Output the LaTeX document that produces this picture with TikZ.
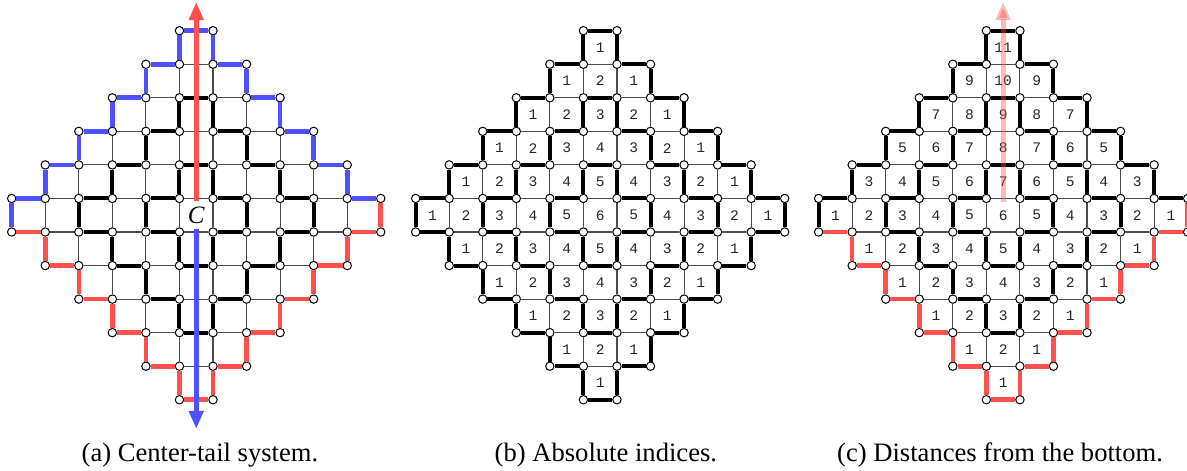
\documentclass[tikz,border=0pt]{standalone}
\usepackage{fontspec}
\setmainfont{Liberation Serif}
\setmonofont{Liberation Mono}
\definecolor{tailred}{RGB}{255,80,80}
\definecolor{tailblue}{RGB}{80,80,255}
\usetikzlibrary{arrows.meta}

% #1 panel (1,2,3), #2 on the rim, #3 upper half, #4 thick
\newcommand\pickedge[4]{%
  \ifnum#2=1
    \ifnum#3=1
      \ifnum#1=1 \def\es{upedge}\else\def\es{thickedge}\fi
    \else
      \ifnum#1=2 \def\es{thickedge}\else\def\es{downedge}\fi
    \fi
  \else
    \ifnum#4=1 \def\es{thickedge}\else\def\es{thinedge}\fi
  \fi}

\begin{document}
\begin{tikzpicture}[
  x=16.775pt, y=16.775pt,
  vtx/.style={circle,draw,fill=white,line width=0.5pt,inner sep=0pt,minimum size=4.2pt},
  thinedge/.style={line width=0.55pt,black!70},
  thickedge/.style={line width=2pt,black},
  upedge/.style={line width=2.3pt,tailblue},
  downedge/.style={line width=2.3pt,tailred},
  num/.style={font=\ttfamily\fontsize{7.3}{8}\selectfont,text=black!85},
  subcap/.style={font=\fontsize{13.3}{16}\selectfont,anchor=base},
  arr/.style={-{Triangle[length=9pt,width=7pt]},line width=2.4pt},
]
  \useasboundingbox (-0.349,0.915) rectangle (35.03,-13.094);

  \foreach \p/\ox/\k in {a/0/1,b/12.04/2,c/24.05/3}{
    % corner points
    \foreach \i in {0,...,11}{
      \foreach \j in {0,...,11}{
        \pgfmathtruncatemacro\dd{(\i<6 ? 5-\i : \i-6)+(\j<6 ? 5-\j : \j-6)}
        \ifnum\dd<6 \node[vtx] (\p-\i-\j) at (\ox+\i,-\j) {};\fi
      }
    }
    % horizontal edges
    \foreach \i in {0,...,10}{
      \foreach \j in {0,...,11}{
        \pgfmathtruncatemacro\dd{abs(\i-5)+(\j<6 ? 5-\j : \j-6)}
        \ifnum\dd<6
          \pgfmathtruncatemacro\up{\j<6}
          \pgfmathtruncatemacro\thk{\j<6 ? mod(\i+\j,2) : 1-mod(\i+\j,2)}
          \pgfmathtruncatemacro\rim{\dd==5}
          \pickedge{\k}{\rim}{\up}{\thk}
          \pgfmathtruncatemacro\ii{\i+1}
          \draw[\es] (\p-\i-\j) -- (\p-\ii-\j);
        \fi
      }
    }
    % vertical edges
    \foreach \i in {0,...,11}{
      \foreach \j in {0,...,10}{
        \pgfmathtruncatemacro\dd{(\i<6 ? 5-\i : \i-6)+abs(\j-5)}
        \ifnum\dd<6
          \pgfmathtruncatemacro\up{(\i<6 && \j<6) || (\i>5 && \j<5)}
          \pgfmathtruncatemacro\thk{\i<6 ? mod(\i+\j,2) : 1-mod(\i+\j,2)}
          \pgfmathtruncatemacro\rim{\dd==5}
          \pickedge{\k}{\rim}{\up}{\thk}
          \pgfmathtruncatemacro\jj{\j+1}
          \draw[\es] (\p-\i-\j) -- (\p-\i-\jj);
        \fi
      }
    }
    % cell values
    \ifnum\k>1
      \foreach \col in {0,...,10}{
        \foreach \row in {0,...,10}{
          \pgfmathtruncatemacro\dd{abs(\col-5)+abs(\row-5)}
          \ifnum\dd<6
            \pgfmathtruncatemacro\val{\k==2 ? 6-\dd : 11-\row-abs(\col-5)}
            \node[num] (\p-n-\col-\row) at (\ox+\col+0.5,-\row-0.5) {\val};
          \fi
        }
      }
    \fi
  }

  % center-tail arrows
  \node[font=\itshape\fontsize{12.5}{14}\selectfont,inner sep=0pt,minimum height=13.5pt] (C) at (5.5,-5.5) {C};
  \coordinate (ctop) at (5.5,0.855);
  \coordinate (cbot) at (5.5,-11.87);
  \draw[arr,tailred] (C.north) -- (ctop);
  \draw[arr,tailblue] (C.south) -- (cbot);

  % distance arrow
  \coordinate (dbase) at (29.55,-5.097);
  \coordinate (dtop) at (29.55,0.855);
  \draw[arr,tailred,opacity=0.4] (dbase) -- (dtop);

  % captions
  \node[subcap] (capa) at (5.61,-12.846) {(a) Center-tail system.};
  \node[subcap] (capb) at (17.71,-12.846) {(b) Absolute indices.};
  \node[subcap] (capc) at (29.46,-12.846) {(c) Distances from the bottom.};
\end{tikzpicture}
\end{document}
